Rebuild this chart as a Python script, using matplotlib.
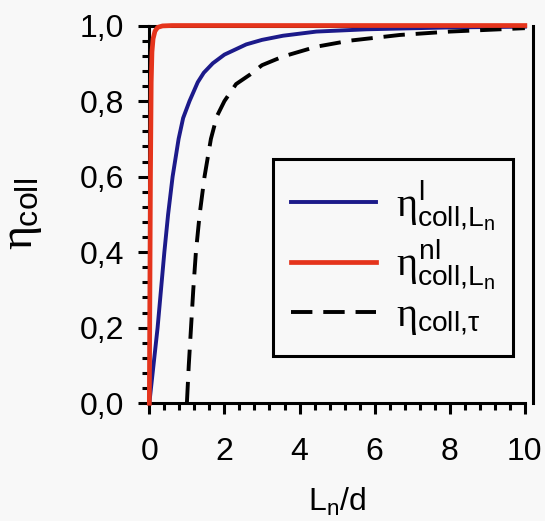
import numpy as np
import matplotlib
matplotlib.use('Agg')
import matplotlib.pyplot as plt
from matplotlib.ticker import MultipleLocator, FuncFormatter

plt.rcParams['font.family'] = ['Liberation Sans', 'DejaVu Sans']
plt.rcParams['mathtext.fontset'] = 'custom'
plt.rcParams['mathtext.rm'] = 'Liberation Sans'
plt.rcParams['mathtext.it'] = 'Liberation Serif'
plt.rcParams['mathtext.bf'] = 'Liberation Sans:bold'

# curves
x_lin = [0, 0.11, 0.22, 0.31, 0.4, 0.5, 0.62, 0.78, 0.9, 1.07, 1.29, 1.45, 1.69, 2.0,
         2.58, 3.0, 3.56, 4.45, 5.78, 8.0, 10.0]
y_lin = [0, 0.1, 0.2, 0.3, 0.4, 0.5, 0.6, 0.7, 0.755, 0.8, 0.85, 0.875, 0.9, 0.923,
         0.95, 0.962, 0.973, 0.984, 0.99, 0.995, 0.997]

x_nl = [0, 0.015, 0.03, 0.05, 0.07, 0.1, 0.15, 0.22, 0.35, 0.6, 10.0]
y_nl = [0, 0.3, 0.6, 0.85, 0.93, 0.965, 0.985, 0.995, 0.999, 1.0, 1.0]

x_tau = [1.0, 1.05, 1.11, 1.17, 1.24, 1.34, 1.47, 1.64, 1.8, 2.0, 2.31, 2.68, 3.0,
         3.56, 4.45, 5.34, 6.67, 8.0, 10.0]
y_tau = [0, 0.1, 0.2, 0.3, 0.4, 0.5, 0.6, 0.7, 0.76, 0.8, 0.845, 0.87, 0.895,
         0.918, 0.944, 0.96, 0.975, 0.984, 0.993]

labels = [r'$\eta^{\mathrm{l}}_{\mathrm{coll{,}L_n}}$',
          r'$\eta^{\mathrm{nl}}_{\mathrm{coll{,}L_n}}$',
          r'$\eta_{\mathrm{coll{,}\tau}}$']

bg = '#f8f8f8'
fig = plt.figure(figsize=(5.45, 5.21), dpi=100, facecolor=bg)
ax = fig.add_axes([0.274, 0.226, 0.689, 0.725], facecolor=bg)

l1, = ax.plot(x_lin, y_lin, color='#1c1a8a', lw=2.8, clip_on=False, zorder=3)
l3, = ax.plot(x_tau, y_tau, color='black', lw=2.8, dashes=(5.5, 2.8), clip_on=False, zorder=3)
l2, = ax.plot(x_nl, y_nl, color='#e5341c', lw=3.4, clip_on=False, zorder=4)

ax.set_xlim(0, 10)
ax.set_ylim(0, 1.0)
ax.xaxis.set_major_locator(MultipleLocator(2))
ax.xaxis.set_minor_locator(MultipleLocator(0.4))
ax.yaxis.set_major_locator(MultipleLocator(0.2))
ax.yaxis.set_minor_locator(MultipleLocator(0.04))
ax.xaxis.set_major_formatter(FuncFormatter(lambda v, p: '%g' % v))
ax.yaxis.set_major_formatter(FuncFormatter(lambda v, p: ('%.1f' % v).replace('.', ',')))

ax.tick_params(which='major', direction='out', length=8, width=2.2, labelsize=23)
ax.tick_params(which='minor', direction='out', length=5, width=2.2)
ax.tick_params(axis='x', which='major', pad=16)
ax.tick_params(axis='y', which='major', pad=10)
for s in ax.spines.values():
    s.set_linewidth(2.2)
ax.spines['right'].set_position(('outward', 6))

ax.set_xlabel(r'$\mathrm{L_n/d}$', fontsize=23, labelpad=14)
ax.set_ylabel(r'$\eta_{\mathrm{coll}}$', fontsize=33, labelpad=26)

leg = ax.legend([l1, l2, l3], labels, loc='upper left', bbox_to_anchor=(0.329, 0.647),
                fontsize=29, fancybox=False, edgecolor='black', facecolor=bg,
                framealpha=1, handlelength=2.1, handletextpad=0.5, labelspacing=0.1,
                borderpad=0.45, borderaxespad=0)
leg.get_frame().set_linewidth(2.2)

fig.savefig('out.png', dpi=100, facecolor=bg)
